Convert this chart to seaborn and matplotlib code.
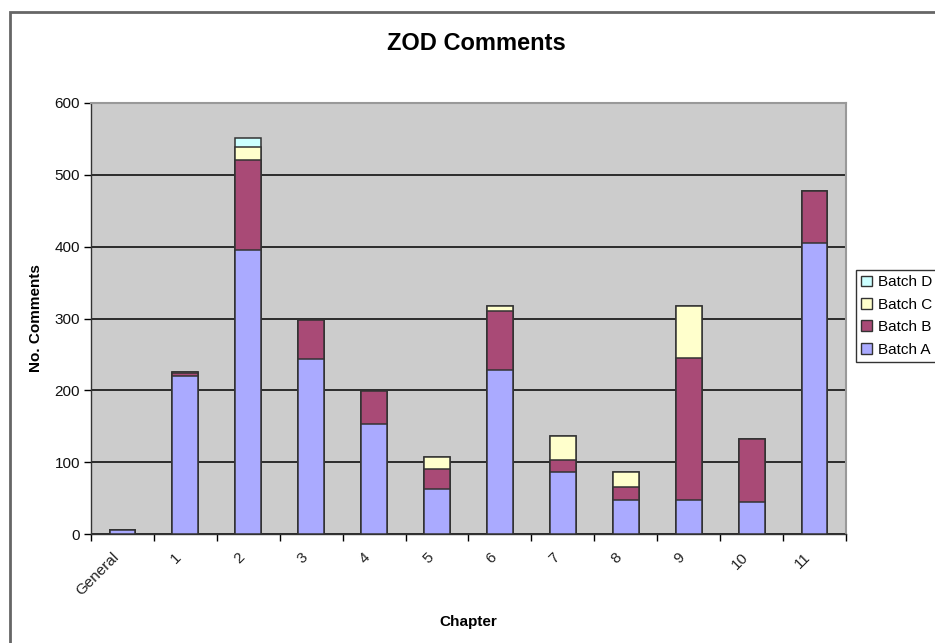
import numpy as np
import pandas as pd
import seaborn as sns
import matplotlib.pyplot as plt
from matplotlib.patches import Patch, Rectangle
from matplotlib.transforms import ScaledTranslation

# chapter data
chapters = ['General', '1', '2', '3', '4', '5', '6', '7', '8', '9', '10', '11']
batch_a = [5, 220, 396, 243, 153, 62, 228, 87, 48, 48, 45, 405]
batch_b = [0, 4, 125, 55, 46, 29, 83, 16, 17, 197, 87, 73]
batch_c = [0, 1, 18, 0, 0, 16, 7, 34, 22, 72, 0, 0]
batch_d = [0, 0, 12, 0, 0, 0, 0, 0, 0, 0, 0, 0]

colors = {'Batch A': '#aaaaff', 'Batch B': '#a94a76',
          'Batch C': '#ffffcc', 'Batch D': '#ccffff'}

df = pd.DataFrame({'chapter': chapters, 'Batch A': batch_a, 'Batch B': batch_b,
                   'Batch C': batch_c, 'Batch D': batch_d})
# cumulative heights, drawn from tallest down so the stacks show through
df['cum_a'] = df['Batch A']
df['cum_b'] = df['cum_a'] + df['Batch B']
df['cum_c'] = df['cum_b'] + df['Batch C']
df['cum_d'] = df['cum_c'] + df['Batch D']

sns.set_style('white')
plt.rcParams['font.family'] = ['Liberation Sans', 'DejaVu Sans']
plt.rcParams['text.color'] = 'black'

fig = plt.figure(figsize=(9.35, 6.43), dpi=100)
ax = fig.add_axes([91/935, 1 - 534/643, 755/935, 431/643])
ax.set_facecolor('#cccccc')

for col, name in [('cum_d', 'Batch D'), ('cum_c', 'Batch C'),
                  ('cum_b', 'Batch B'), ('cum_a', 'Batch A')]:
    sns.barplot(data=df, x='chapter', y=col, color=colors[name], width=0.41,
                edgecolor='#333333', linewidth=1.1, saturation=1, ax=ax, zorder=3)

ax.set_ylim(0, 600)
ax.set_xlim(-0.5, len(chapters) - 0.5)
ax.set_yticks(range(0, 601, 100))
ax.yaxis.grid(True, color='black', linewidth=1.1, zorder=1)
ax.set_axisbelow(True)
ax.tick_params(axis='y', direction='out', length=5, width=1, color='black',
               labelsize=11, labelcolor='#111111', pad=3, left=True)
ax.set_xticks(range(len(chapters)))
ax.set_xticklabels(chapters, rotation=45, ha='right', va='center',
                   rotation_mode='anchor', fontsize=11, color='#222222')
ax.tick_params(axis='x', which='major', length=0, pad=15)
ax.set_xticks(np.arange(-0.5, len(chapters), 1), minor=True)
ax.tick_params(axis='x', which='minor', direction='out', length=5, width=1,
               color='black', bottom=True)
shift = ScaledTranslation(-6/100, 0, fig.dpi_scale_trans)
for lab in ax.get_xticklabels():
    lab.set_transform(lab.get_transform() + shift)

for side in ['left', 'bottom']:
    ax.spines[side].set_color('#333333')
    ax.spines[side].set_linewidth(1)
for side in ['top', 'right']:
    ax.spines[side].set_visible(True)
    ax.spines[side].set_color('#999999')
    ax.spines[side].set_linewidth(1.5)

ax.set_xlabel('')
ax.set_ylabel('')
fig.text(36/935, 1 - 318/643, 'No. Comments', rotation=90, ha='center', va='center',
         fontsize=11, fontweight='bold')
fig.text(468/935, 1 - 622/643, 'Chapter', ha='center', va='center',
         fontsize=11, fontweight='bold')
fig.text(476/935, 1 - 44/643, 'ZOD Comments', ha='center', va='center',
         fontsize=17, fontweight='bold')

# outer chart frame
fig.patches.append(Rectangle((10/935, -0.1), 1.2, 1.1 - 12/643, transform=fig.transFigure,
                             fill=False, edgecolor='#666666', linewidth=2))

handles = [Patch(facecolor=colors[n], edgecolor='#333333', label=n)
           for n in ['Batch D', 'Batch C', 'Batch B', 'Batch A']]
leg = fig.legend(handles=handles, loc='upper left', bbox_to_anchor=(856/935, 1 - 270/643),
                 fontsize=11, frameon=True, fancybox=False, edgecolor='black',
                 handlelength=0.7, handleheight=0.7, handletextpad=0.4,
                 borderpad=0.35, labelspacing=0.55, borderaxespad=0)
leg.get_frame().set_linewidth(1)

fig.savefig('out.png', dpi=100)
